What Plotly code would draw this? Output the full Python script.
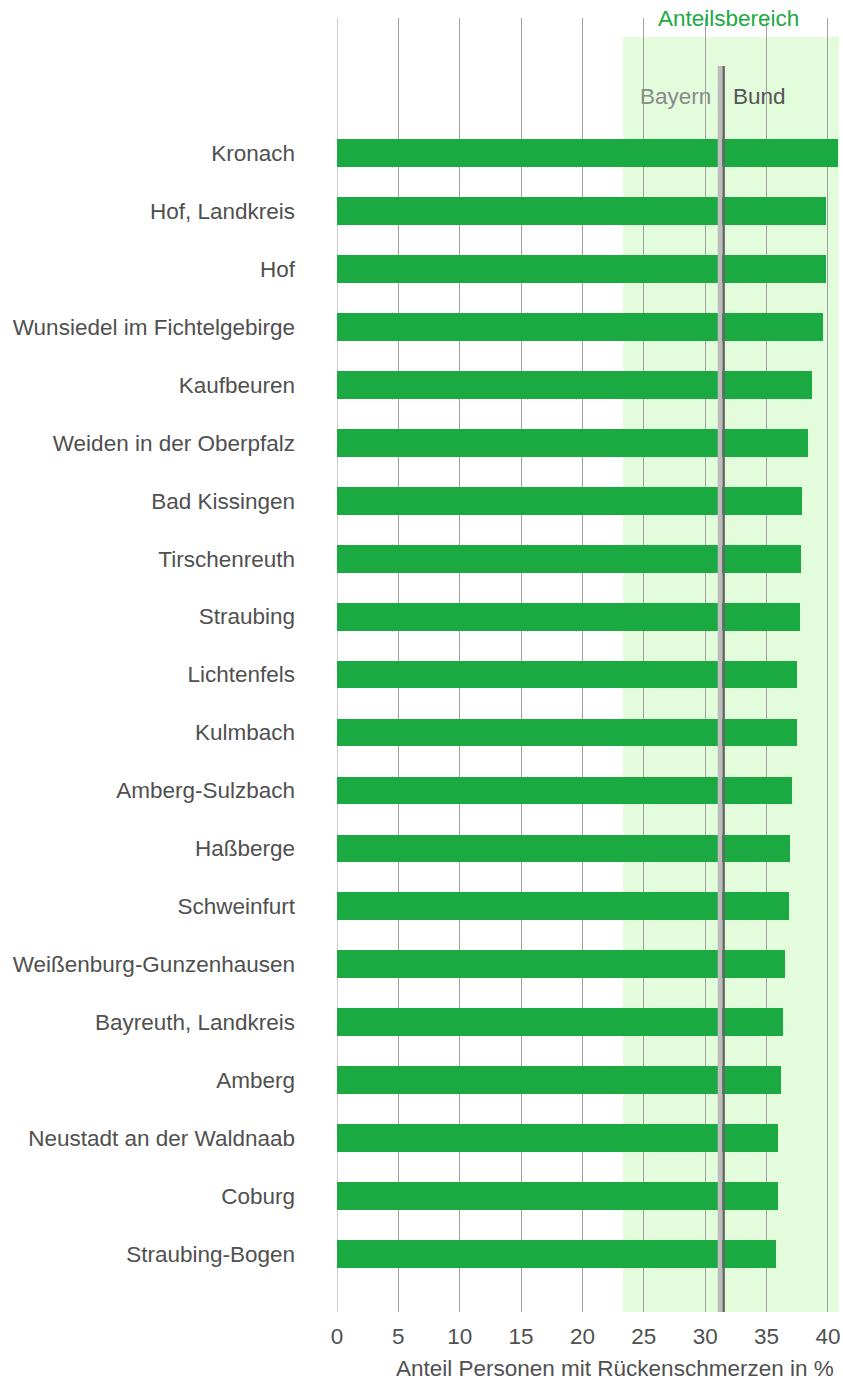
import plotly.graph_objects as go

regions = [
    "Kronach", "Hof, Landkreis", "Hof", "Wunsiedel im Fichtelgebirge", "Kaufbeuren",
    "Weiden in der Oberpfalz", "Bad Kissingen", "Tirschenreuth", "Straubing", "Lichtenfels",
    "Kulmbach", "Amberg-Sulzbach", "Haßberge", "Schweinfurt", "Weißenburg-Gunzenhausen",
    "Bayreuth, Landkreis", "Amberg", "Neustadt an der Waldnaab", "Coburg", "Straubing-Bogen",
]
values = [40.8, 39.8, 39.8, 39.6, 38.7, 38.4, 37.9, 37.8, 37.7, 37.5,
          37.5, 37.1, 36.9, 36.8, 36.5, 36.3, 36.2, 35.9, 35.9, 35.8]
bayern = 31.2
bund = 31.5
range_low = 23.3
x_ticks = [0, 5, 10, 15, 20, 25, 30, 35, 40]

FONT = "Liberation Sans, Arial, sans-serif"
TXT = "#505050"
GREEN = "#1aaa41"
GRID = "#a0a0a0"
FS = 22.5

pos = list(range(len(regions)))
n = len(regions)
x_max = 40.9
y_top = -2.33

fig = go.Figure()
fig.add_trace(go.Bar(
    x=values, y=pos, orientation="h", width=0.48,
    marker=dict(color=GREEN, line=dict(width=0)),
    hoverinfo="x+text", text=regions, textposition="none",
))

# shaded range
fig.add_shape(type="rect", xref="x", yref="y", x0=range_low, x1=x_max, y0=-2.0, y1=n,
              fillcolor="#e3fcdb", line=dict(width=0), layer="below")
# gridline at zero (plotly omits it at the range edge)
fig.add_shape(type="line", xref="x", yref="y", x0=0, x1=0, y0=y_top, y1=n,
              line=dict(color=GRID, width=1), layer="below")
# reference lines
fig.add_shape(type="line", xref="x", yref="y", x0=bayern, x1=bayern, y0=-1.5, y1=n,
              line=dict(color="#bdbdbd", width=4.5), layer="above")
fig.add_shape(type="line", xref="x", yref="y", x0=bund, x1=bund, y0=-1.5, y1=n,
              line=dict(color="#666666", width=2.5), layer="above")

fig.add_annotation(x=bayern - 0.6, y=-0.97, xref="x", yref="y", text="Bayern",
                   showarrow=False, xanchor="right", yanchor="middle",
                   font=dict(family=FONT, size=FS, color="#8a8a8a"))
fig.add_annotation(x=bund + 0.6, y=-0.97, xref="x", yref="y", text="Bund",
                   showarrow=False, xanchor="left", yanchor="middle",
                   font=dict(family=FONT, size=FS, color="#555555"))
fig.add_annotation(x=(range_low + x_max) / 2 - 0.2, y=1, xref="x", yref="paper",
                   yanchor="middle", text="Anteilsbereich", showarrow=False,
                   xanchor="center", font=dict(family=FONT, size=FS, color=GREEN))
fig.add_annotation(x=1, y=0, xref="paper", yref="paper", xshift=-3, yshift=-56,
                   text="Anteil Personen mit Rückenschmerzen in %", showarrow=False,
                   xanchor="right", yanchor="middle",
                   font=dict(family=FONT, size=FS, color=TXT))

fig.update_layout(
    width=843, height=1381,
    margin=dict(l=337, r=4, t=18, b=69),
    paper_bgcolor="white", plot_bgcolor="white",
    showlegend=False, bargap=0,
    font=dict(family=FONT, size=FS, color=TXT),
    xaxis=dict(range=[0, x_max], tickvals=x_ticks, ticktext=[str(v) for v in x_ticks],
               showgrid=True, gridcolor=GRID, gridwidth=1, zeroline=False,
               showline=False, ticks="", ticklabelstandoff=8,
               tickfont=dict(size=FS, color=TXT), fixedrange=True),
    yaxis=dict(range=[n, y_top], tickvals=pos, ticktext=regions,
               showgrid=False, zeroline=False, showline=False, ticks="",
               ticklabelstandoff=41, tickfont=dict(size=FS, color=TXT),
               fixedrange=True),
)

fig.write_html("out.html", config={"displayModeBar": False},
               post_script="document.body.style.margin='0';document.body.style.overflow='hidden';")
